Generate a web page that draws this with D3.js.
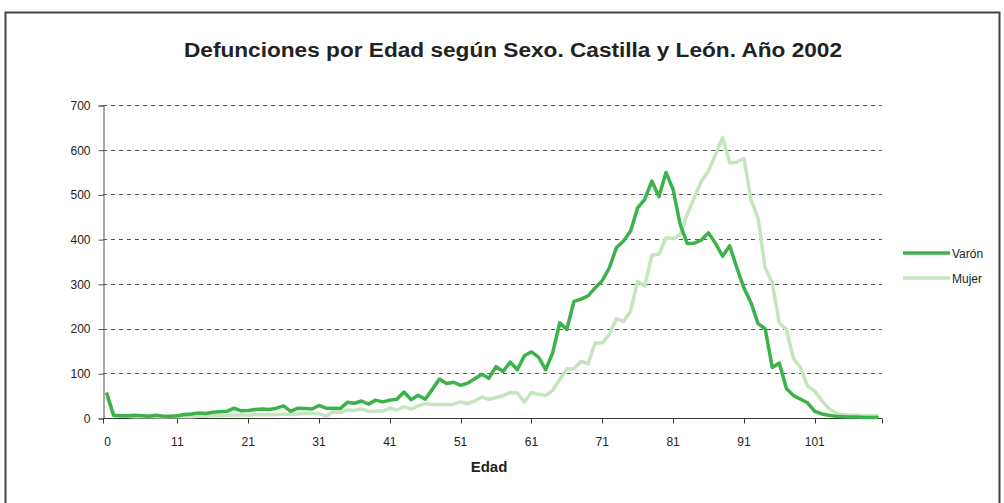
<!DOCTYPE html>
<html><head><meta charset="utf-8">
<script src="https://cdn.jsdelivr.net/npm/d3@7"></script>
<style>body{margin:0;background:#fff}svg{display:block}</style>
</head><body>
<svg id="c" width="1004" height="503"></svg>
<script>
const title = "Defunciones por Edad según Sexo. Castilla y León. Año 2002";
const xTitle = "Edad";
const seriesNames = ["Varón", "Mujer"];
const yTicks = [0, 100, 200, 300, 400, 500, 600, 700];
const xTickIndex = [0, 10, 20, 30, 40, 50, 60, 70, 80, 90, 100];
const xTickLabels = ["0", "11", "21", "31", "41", "51", "61", "71", "81", "91", "101"];
const varon = [57,6,5,5,6,5,4,6,4,4,5,8,9,11,10,13,14,15,22,16,17,19,20,19,22,27,15,22,21,20,28,22,22,21,35,33,38,31,40,36,40,42,58,41,51,42,64,87,77,80,73,78,88,98,89,115,104,125,108,139,148,136,108,146,213,198,261,266,273,291,307,336,381,396,418,470,489,530,495,549,511,433,390,391,398,414,390,362,385,336,291,258,211,200,113,123,66,50,42,34,15,9,6,4,3,2,2,1,1,1];
const mujer = [48,5,4,4,3,3,3,3,2,3,3,3,3,4,4,5,5,6,6,7,6,7,8,7,8,9,8,9,10,10,10,4,14,12,18,17,20,15,15,16,22,18,25,20,27,32,30,31,30,31,36,32,38,47,42,46,50,57,56,36,57,53,50,62,86,110,110,127,121,168,168,187,222,216,239,306,295,364,366,403,401,410,455,493,530,552,590,627,571,572,581,489,446,336,302,213,198,133,112,71,60,39,21,11,7,6,6,5,5,5];
const colors = ["#3cb34a", "#c5e5bf"];

const svg = d3.select("#c");
svg.append("rect").attr("x",5.5).attr("y",12.5).attr("width",994).attr("height",500)
  .attr("fill","none").attr("stroke","#444").attr("stroke-width",2);

const x = d3.scaleBand().domain(d3.range(varon.length)).range([103, 882]).padding(0);
const cx = i => x(i) + x.bandwidth()/2;
const y = d3.scaleLinear().domain([0, 700]).range([418, 105]);

// gridlines
svg.append("g").selectAll("line").data(yTicks.filter(d=>d>0)).join("line")
  .attr("x1",103).attr("x2",882).attr("y1",d=>Math.round(y(d))+0.5).attr("y2",d=>Math.round(y(d))+0.5)
  .attr("stroke","#555").attr("stroke-dasharray","4,4");

// y axis
const ya = svg.append("g").attr("transform","translate(103.5,0.5)")
  .call(d3.axisLeft(y).tickValues(yTicks).tickSize(5).tickPadding(8));
ya.select(".domain").attr("stroke","#555");
ya.selectAll(".tick line").attr("stroke","#555");
ya.selectAll("text").attr("font-family","Liberation Sans, Arial, sans-serif").attr("font-size",12).attr("fill","#222");

// x axis
const xa = svg.append("g").attr("transform","translate(0,418.5)");
xa.append("line").attr("x1",103).attr("x2",882).attr("stroke","#333");
const tickPos = [103].concat(xTickIndex.slice(1).map(cx)).concat([882]);
xa.selectAll("line.t").data(tickPos).join("line").attr("class","t")
  .attr("x1",d=>Math.round(d)+0.5).attr("x2",d=>Math.round(d)+0.5).attr("y1",0).attr("y2",5).attr("stroke","#333");
xa.selectAll("text").data(xTickIndex).join("text")
  .attr("x",(d,i)=> i===0 ? cx(d)+1 : cx(d)).attr("y",27).attr("text-anchor","middle")
  .attr("font-family","Liberation Sans, Arial, sans-serif").attr("font-size",12).attr("fill","#222")
  .text((d,i)=>xTickLabels[i]);

// lines
const line = d3.line().x((d,i)=>cx(i)).y(d=>y(d));
[mujer, varon].forEach((s,k)=>{
  const ci = k===0 ? 1 : 0;
  svg.append("path").datum(s).attr("d",line).attr("fill","none")
    .attr("stroke",colors[ci]).attr("stroke-width",3.5).attr("stroke-linejoin","round");
});

// title
svg.append("text").attr("x",513).attr("y",57).attr("text-anchor","middle")
  .attr("font-family","Liberation Sans, Arial, sans-serif").attr("font-weight","bold").attr("font-size",20)
  .attr("fill","#222").attr("textLength",658).attr("lengthAdjust","spacingAndGlyphs").text(title);
svg.append("text").attr("x",489).attr("y",472).attr("text-anchor","middle")
  .attr("font-family","Liberation Sans, Arial, sans-serif").attr("font-weight","bold").attr("font-size",15)
  .attr("fill","#222").text(xTitle);

// legend
const lg = svg.append("g");
seriesNames.forEach((n,i)=>{
  const yy = 253 + i*25;
  lg.append("line").attr("x1",903).attr("x2",950).attr("y1",yy).attr("y2",yy)
    .attr("stroke",colors[i]).attr("stroke-width",3.5);
  lg.append("text").attr("x",952).attr("y",yy+4.5).attr("font-family","Liberation Sans, Arial, sans-serif")
    .attr("font-size",12).attr("fill","#222").text(n);
});
</script>
</body></html>
